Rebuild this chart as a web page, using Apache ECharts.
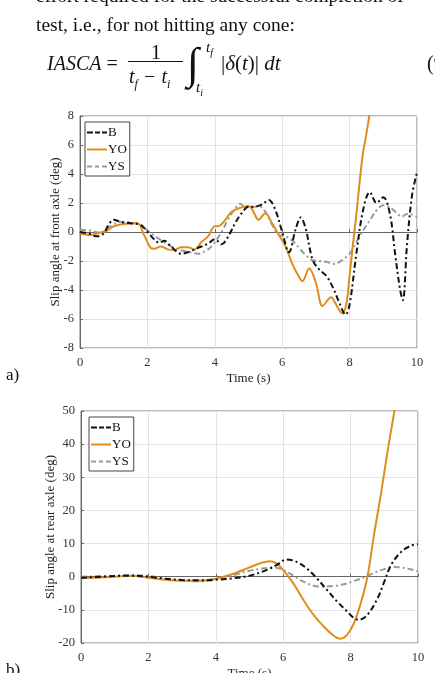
<!DOCTYPE html>
<html>
<head>
<meta charset="utf-8">
<script src="https://cdn.jsdelivr.net/npm/echarts@6/dist/echarts.min.js"></script>
<style>
    html, body { margin: 0; padding: 0; background: #fff; }
    body { width: 435px; height: 673px; position: relative; overflow: hidden; }
    #chart { position: absolute; left: 0; top: 0; width: 435px; height: 673px; }
    .txt { position: absolute; font-family: "Liberation Serif", serif; color: #111; line-height: 1; white-space: nowrap; }
    .it { font-style: italic; }
</style>
</head>
<body>
<div id="chart"></div>
<!-- 上方正文和公式 -->
<div class="txt" style="left:36px; top:-14px; font-size:19.5px;">effort required for the successful completion of</div>
<div class="txt" style="left:36px; top:15px; font-size:19.5px;">test, i.e., for not hitting any cone:</div>
<div class="txt" style="left:47px; top:53px; font-size:20px;"><span class="it">IASCA</span> =</div>
<div class="txt" style="left:151px; top:42px; font-size:20px;">1</div>
<div style="position:absolute; left:128px; top:61px; width:55px; height:1px; background:#111;"></div>
<div class="txt it" style="left:129px; top:66px; font-size:20px;">t<sub style="font-size:12px;">f</sub> &minus; t<sub style="font-size:12px;">i</sub></div>
<div class="txt" style="left:187px; top:42px; font-size:44px;">&int;</div>
<div class="txt it" style="left:206px; top:40px; font-size:15px;">t<sub style="font-size:10px;">f</sub></div>
<div class="txt it" style="left:196px; top:80px; font-size:15px;">t<sub style="font-size:10px;">i</sub></div>
<div class="txt" style="left:221px; top:53px; font-size:21px;">|<span class="it">&delta;</span>(<span class="it">t</span>)| <span class="it">dt</span></div>
<div class="txt" style="left:427px; top:53px; font-size:20px;">(9)</div>
<script>
// 图 a：前轴侧偏角 [时间 s, 角度 deg]
var frontB = [[0,0],[0.25,-0.1],[0.5,-0.3],[0.7,-0.1],[0.85,0.5],[1.0,0.85],[1.2,0.7],[1.5,0.6],[1.8,0.5],[2.0,0.0],[2.2,-0.5],[2.35,-0.75],[2.5,-0.6],[2.7,-1.0],[3.0,-1.5],[3.2,-1.4],[3.5,-1.1],[3.8,-0.8],[4.0,-0.5],[4.2,-0.85],[4.4,-0.3],[4.6,0.6],[4.8,1.3],[5.0,1.75],[5.2,1.75],[5.4,1.9],[5.6,2.2],[5.8,1.5],[6.0,0.0],[6.2,-1.4],[6.4,0.2],[6.55,1.0],[6.7,0.2],[6.9,-1.9],[7.1,-2.6],[7.3,-3.0],[7.5,-3.8],[7.7,-4.9],[7.88,-5.7],[8.0,-5.0],[8.2,-1.5],[8.4,1.5],[8.6,2.75],[8.8,2.0],[9.0,2.4],[9.2,1.2],[9.35,-1.5],[9.5,-4.0],[9.58,-4.7],[9.7,-1.0],[9.85,2.5],[10,4.1]];
var frontYO = [[0,-0.1],[0.3,-0.2],[0.5,-0.1],[0.8,0.1],[1.0,0.4],[1.3,0.55],[1.7,0.6],[1.9,-0.2],[2.1,-1.1],[2.2,-1.15],[2.4,-1.0],[2.6,-1.2],[2.8,-1.25],[3.0,-1.05],[3.2,-1.05],[3.4,-1.2],[3.6,-0.7],[3.8,-0.3],[4.0,0.4],[4.1,0.4],[4.3,0.8],[4.5,1.4],[4.8,1.7],[5.0,1.8],[5.1,1.6],[5.3,0.85],[5.5,1.3],[5.7,0.6],[5.9,-0.2],[6.1,-1.0],[6.3,-2.2],[6.5,-3.1],[6.6,-3.4],[6.8,-2.5],[7.0,-3.5],[7.2,-5.1],[7.45,-4.5],[7.6,-5.0],[7.78,-5.6],[7.9,-5.0],[8.0,-3.0],[8.1,-0.8],[8.2,1.2],[8.3,3.5],[8.4,5.5],[8.5,6.8],[8.6,8.3],[8.7,10.5]];
var frontYS = [[0,0.15],[0.3,0.1],[0.6,-0.05],[0.9,0.4],[1.2,0.7],[1.5,0.65],[1.8,0.5],[2.0,0.1],[2.3,-0.4],[2.6,-0.85],[2.9,-1.2],[3.2,-1.35],[3.5,-1.5],[3.8,-1.2],[4.0,-0.7],[4.2,0.0],[4.4,0.9],[4.6,1.6],[4.75,1.95],[4.9,1.7],[5.1,1.7],[5.3,1.8],[5.5,1.4],[5.7,0.5],[5.9,-0.2],[6.1,-0.3],[6.3,-0.6],[6.5,-1.1],[6.7,-1.6],[6.9,-1.95],[7.1,-2.0],[7.3,-2.05],[7.55,-2.2],[7.8,-1.9],[8.0,-1.5],[8.2,-0.7],[8.4,0.1],[8.6,0.8],[8.8,1.5],[9.0,1.85],[9.2,1.7],[9.4,1.3],[9.55,1.05],[9.7,1.25],[9.85,1.2],[10,1.05]];
// 图 b：后轴侧偏角
var rearB = [[0,-0.3],[1,0.2],[1.5,0.3],[2,0],[2.5,-0.6],[3,-1.0],[3.5,-1.1],[4,-0.9],[4.5,-0.5],[5,0.3],[5.5,2.0],[5.8,3.5],[6.1,5.2],[6.4,4.5],[6.7,2.5],[7.0,-0.5],[7.3,-4.0],[7.6,-7.5],[7.9,-10.5],[8.1,-12.5],[8.25,-13.0],[8.5,-11.5],[8.8,-6.5],[9.0,-1.5],[9.2,3.5],[9.5,7.5],[9.8,9.4],[10,9.8]];
var rearYO = [[0,-0.5],[1,0.0],[1.5,0.3],[2,-0.3],[2.5,-0.9],[3,-1.2],[3.5,-1.2],[4,-0.6],[4.5,0.8],[5,2.8],[5.3,4.0],[5.6,4.7],[5.8,4.0],[6.0,2.0],[6.3,-2.0],[6.6,-7.0],[6.9,-11.5],[7.2,-15.0],[7.5,-17.8],[7.7,-18.7],[7.9,-17.5],[8.1,-14.0],[8.3,-8.0],[8.5,0],[8.7,13],[8.9,25],[9.1,38],[9.3,50],[9.4,56]];
var rearYS = [[0,0],[1,0.3],[1.5,0.5],[2,0.2],[2.5,-0.5],[3,-1.1],[3.5,-1.4],[4,-0.8],[4.5,0.4],[5,1.8],[5.5,2.6],[5.7,2.8],[6.0,2.0],[6.3,0.3],[6.6,-1.5],[6.9,-2.7],[7.2,-3.0],[7.5,-2.8],[7.8,-2.3],[8.1,-1.3],[8.4,-0.2],[8.7,1.2],[9.0,2.3],[9.3,2.9],[9.5,2.8],[9.8,2.2],[10,1.6]];

var seriesNames = ["B", "YO", "YS"];
var timeTicks = [0, 10, 2];
var frontTicks = [-8, 8, 2];
var rearTicks = [-20, 50, 10];

(function () {
    var myChart = echarts.init(document.getElementById("chart"));
    var font = "Liberation Serif";
    var colors = ["#111111", "#E08E1B", "#999999"];
    var dashes = [[6, 3, 2, 3], "solid", [6, 3, 2, 3]];
    // 图例里的线形图标
    var dashIcon = 'path://M0,0h6v2h-6z M8,0h5v2h-5z M15,0h5v2h-5z';
    var solidIcon = 'path://M0,0h20v2h-20z';
    var grayIcon = 'path://M0,0h5v2h-5z M8,0h4v2h-4z M15,0h5v2h-5z';
    var icons = [dashIcon, solidIcon, grayIcon];

    function xAxisOf(gi, gap) {
        return {
            type: 'value', gridIndex: gi,
            min: timeTicks[0], max: timeTicks[1], interval: timeTicks[2],
            name: 'Time (s)', nameLocation: 'middle', nameGap: gap, nameMoveOverlap: false,
            nameTextStyle: { fontFamily: font, fontSize: 13, color: '#222' },
            axisLine: { lineStyle: { color: '#666', width: 1 } },
            axisTick: { inside: true, length: 3, lineStyle: { color: '#666' } },
            axisLabel: { fontFamily: font, fontSize: 12.5, color: '#333', margin: 8 },
            splitLine: { show: true, lineStyle: { color: '#e3e3e3' } }
        };
    }
    function yAxisOf(gi, ticks, name, gap) {
        return {
            type: 'value', gridIndex: gi,
            min: ticks[0], max: ticks[1], interval: ticks[2],
            name: name, nameLocation: 'middle', nameGap: gap, nameMoveOverlap: false,
            nameTextStyle: { fontFamily: font, fontSize: 13, color: '#222' },
            axisLine: { show: true, lineStyle: { color: '#666', width: 1 } },
            axisTick: { show: true, inside: true, length: 3, lineStyle: { color: '#666' } },
            axisLabel: { fontFamily: font, fontSize: 12.5, color: '#333', margin: 6 },
            splitLine: { show: true, lineStyle: { color: '#e3e3e3' } }
        };
    }
    function lineOf(i, gi, data) {
        return {
            name: seriesNames[i], type: 'line', xAxisIndex: gi, yAxisIndex: gi,
            data: data, showSymbol: false, symbol: 'none', smooth: 0.35,
            clip: true, z: 3 - i,
            lineStyle: { color: colors[i], width: 2, type: dashes[i] },
            itemStyle: { color: colors[i] }
        };
    }
    function legendOf(left, top) {
        return {
            orient: 'vertical', left: left, top: top,
            data: seriesNames.map(function (n, i) { return { name: n, icon: icons[i] }; }),
            itemWidth: 20, itemHeight: 2, itemGap: 4,
            borderColor: '#444', borderWidth: 1, padding: [4, 3, 3, 2],
            backgroundColor: '#fff',
            textStyle: { fontFamily: font, fontSize: 13, color: '#111', padding: [0, 0, 0, -4], lineHeight: 10 }
        };
    }

    var option = {
        animation: false,
        color: colors,
        grid: [
            { left: 80, top: 116, width: 337, height: 232, show: true, borderColor: '#777', borderWidth: 1, outerBoundsMode: 'none' },
            { left: 81, top: 411, width: 337, height: 232, show: true, borderColor: '#777', borderWidth: 1, outerBoundsMode: 'none' }
        ],
        legend: [legendOf(85, 122), legendOf(89, 417)],
        xAxis: [xAxisOf(0, 24), xAxisOf(1, 24)],
        yAxis: [
            yAxisOf(0, frontTicks, 'Slip angle at front axle (deg)', 18),
            yAxisOf(1, rearTicks, 'Slip angle at rear axle (deg)', 24)
        ],
        graphic: [
            { type: 'text', left: 6, top: 367, style: { text: 'a)', fontFamily: font, fontSize: 17, fill: '#111' } },
            { type: 'text', left: 6, top: 662, style: { text: 'b)', fontFamily: font, fontSize: 17, fill: '#111' } }
        ],
        series: [
            lineOf(0, 0, frontB), lineOf(1, 0, frontYO), lineOf(2, 0, frontYS),
            lineOf(0, 1, rearB), lineOf(1, 1, rearYO), lineOf(2, 1, rearYS)
        ]
    };
    myChart.setOption(option);
})();
</script>
</body>
</html>
